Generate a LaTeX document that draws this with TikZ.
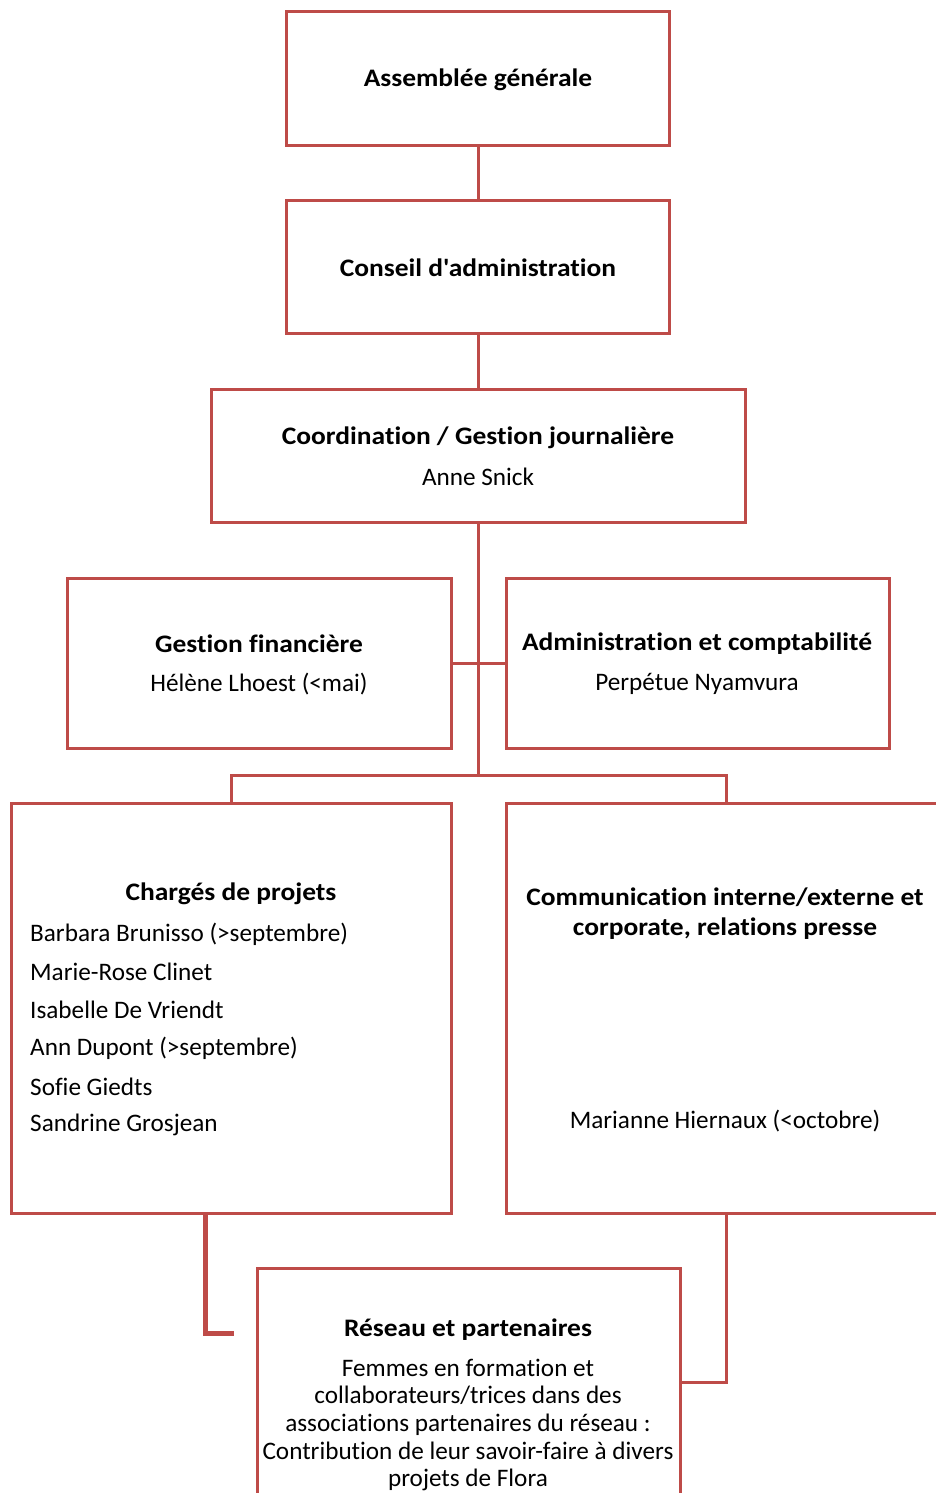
\documentclass[tikz,border=0pt]{standalone}
\usepackage{fontspec}
\setmainfont{Carlito}
\newfontfamily\ttlfont{Carlito}[FakeStretch=1.09,RawFeature={-liga;-clig;-calt;-dlig}]
\newfontfamily\bodyfont{Carlito}[RawFeature={-liga;-clig;-calt;-dlig}]
\definecolor{linered}{HTML}{BE4B48}
\begin{document}
\begin{tikzpicture}[x=1pt,y=-1pt,
  box/.style={draw=linered, line width=3pt, rectangle, inner sep=0pt},
  conn/.style={draw=linered, line width=3pt},
  ttl/.style={font=\ttlfont\fontsize{25.2}{30}\selectfont\bfseries, inner sep=0pt, align=center},
  txt/.style={font=\bodyfont\fontsize{25.2}{27.7}\selectfont, inner sep=0pt, align=center}]
\useasboundingbox (0,0) rectangle (936,1493);
\clip (0,0) rectangle (936,1493);
% boxes
\node[box, minimum width=383, minimum height=133] (ag) at (478,78.5) {};
\node[box, minimum width=383, minimum height=133] (ca) at (478,266.5) {};
\node[box, minimum width=534, minimum height=133] (co) at (478,455.5) {};
\node[box, minimum width=384, minimum height=170] (gf) at (259,663) {};
\node[box, minimum width=383, minimum height=170] (ad) at (697.5,663) {};
\node[box, minimum width=440, minimum height=410] (cp) at (231,1008) {};
\node[box, minimum width=440, minimum height=410] (cm) at (726,1008) {};
\node[box, minimum width=423, minimum height=250] (rp) at (468.5,1393) {};
% texts
\node[ttl] (t1) at (478,80) {Assemblée générale};
\node[ttl] (t2) at (478,268) {Conseil d'administration};
\node[ttl] (t3) at (478,438) {Coordination / Gestion journalière};
\node[txt] (n3) at (478,477) {Anne Snick};
\node[ttl] (t4) at (259,644) {Gestion financière};
\node[txt] (n4) at (259,684) {Hélène Lhoest (<mai)};
\node[ttl] (t5) at (697,644) {Administration et comptabilité};
\node[txt] (n5) at (697,684) {Perpétue Nyamvura};
\node[ttl] (t6) at (231,894) {Chargés de projets};
\foreach \n/\y in {Barbara Brunisso (>septembre)/934, Marie-Rose Clinet/972, Isabelle De Vriendt/1010, Ann Dupont (>septembre)/1048, Sofie Giedts/1087, Sandrine Grosjean/1125}
  \node[txt, anchor=west] at (30,\y) {\n};
\node[ttl] (t7) at (725,914) {Communication interne/externe et\\corporate, relations presse};
\node[txt] (n7) at (725,1121) {Marianne Hiernaux (<octobre)};
\node[ttl] (t8) at (468,1330) {Réseau et partenaires};
\node[txt] (n8) at (468,1425) {Femmes en formation et\\collaborateurs/trices dans des\\associations partenaires du réseau :\\Contribution de leur savoir-faire à divers\\projets de Flora};
% connectors
\draw[conn] (ag.south) -- (ca.north);
\draw[conn] (ca.south) -- (co.north);
\coordinate (split) at (478,775);
\draw[conn] (co.south) -- (split);
\draw[conn] (gf.east) -- (ad.west);
\draw[conn] (cp.north) -- (cp.north |- split) -- (cm.north |- split) -- (cm.north);
\coordinate (lk) at (205,1333);
\coordinate (lkend) at (234,1333);
\draw[draw=linered, line width=5pt] (cp.south -| lk) -- (lk) -- (lkend);
\coordinate (rk) at (726,1382);
\draw[conn] (cm.south) -- (rk) -- (rk -| rp.east);
\end{tikzpicture}
\end{document}
